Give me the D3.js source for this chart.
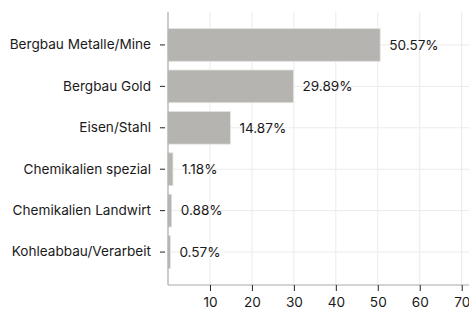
<!DOCTYPE html>
<html><head><meta charset="utf-8">
<script src="https://cdn.jsdelivr.net/npm/d3@7"></script>
<style>body{margin:0;background:#fff}svg{display:block}text{font-family:Inter,"Noto Sans",sans-serif}</style>
</head><body><svg id="c" width="469" height="313"></svg>
<script>
const categories = ["Bergbau Metalle/Mine","Bergbau Gold","Eisen/Stahl","Chemikalien spezial","Chemikalien Landwirt","Kohleabbau/Verarbeit"];
const values = [50.57, 29.89, 14.87, 1.18, 0.88, 0.57];
const xTicks = [10,20,30,40,50,60,70];

(function(){
const svg = d3.select("#c");
const mL = 168, mR = 469, mT = 12, mB = 285;
const fs = 13.6;
const x = d3.scaleLinear().domain([0, 70]).range([mL, 461.7]);
const y = d3.scaleBand().domain(categories).range([mT, mB]).paddingInner(0.21).paddingOuter(0.4);

svg.append("g").selectAll("line").data(xTicks).join("line")
  .attr("x1", d => x(d)).attr("x2", d => x(d)).attr("y1", mT).attr("y2", mB)
  .attr("stroke", "#ebebeb").attr("stroke-width", 1);
svg.append("g").selectAll("line").data(categories).join("line")
  .attr("x1", mL).attr("x2", mR).attr("y1", d => y(d) + y.bandwidth()/2).attr("y2", d => y(d) + y.bandwidth()/2)
  .attr("stroke", "#ebebeb").attr("stroke-width", 1);

svg.append("g").selectAll("rect").data(values).join("rect")
  .attr("x", x(0)).attr("y", (d,i) => y(categories[i]))
  .attr("width", d => x(d) - x(0)).attr("height", y.bandwidth())
  .attr("fill", "#b5b4b0").attr("stroke", "#e4e3e0").attr("stroke-width", 0.8);

svg.append("g").selectAll("text").data(values).join("text")
  .attr("x", d => x(d) + 9).attr("y", (d,i) => y(categories[i]) + y.bandwidth()/2)
  .attr("dy", "0.35em").attr("font-size", fs).attr("fill", "#1a1a1a")
  .text(d => d.toFixed(2) + "%");

const ya = svg.append("g").attr("transform", `translate(${mL},0)`)
  .call(d3.axisLeft(y).tickSize(6).tickPadding(5));
ya.select(".domain").attr("stroke", "#aaa").attr("stroke-width", 1.2).attr("d", `M0,${mT}V${mB}`);
ya.selectAll(".tick line").attr("stroke", "#222").attr("x1", -8).attr("x2", -3);
ya.selectAll(".tick text").attr("font-size", fs).attr("fill", "#1a1a1a").attr("x", -17);

const xa = svg.append("g").attr("transform", `translate(0,${mB})`)
  .call(d3.axisBottom(x).tickValues(xTicks).tickSize(6).tickPadding(6));
xa.select(".domain").attr("stroke", "#aaa").attr("stroke-width", 1.2).attr("d", `M${mL},0H${mR}`);
xa.selectAll(".tick line").attr("stroke", "#222");
xa.selectAll(".tick text").attr("font-size", fs).attr("fill", "#1a1a1a");
})();
</script></body></html>
